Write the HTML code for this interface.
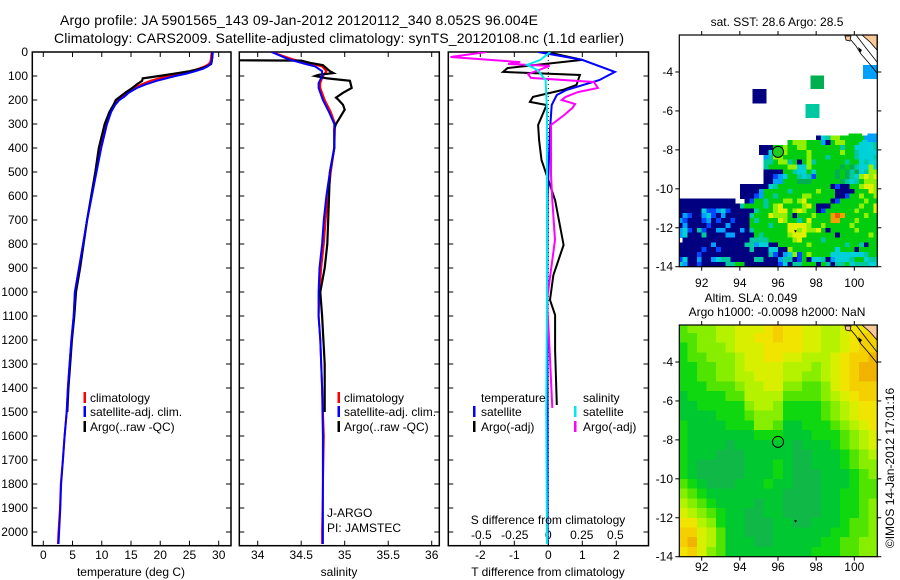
<!DOCTYPE html>
<html><head><meta charset="utf-8"><style>
html,body{margin:0;padding:0;background:#fff;}
svg{display:block;font-family:"Liberation Sans",sans-serif;}
text{fill:#000;}
</style></head><body>
<svg id="fig" width="900" height="580" viewBox="0 0 900 580" xmlns="http://www.w3.org/2000/svg">
<defs>
<clipPath id="c1"><rect x="32" y="52" width="199" height="494"/></clipPath>
<clipPath id="c2"><rect x="240" y="52" width="199" height="494"/></clipPath>
<clipPath id="c3"><rect x="448" y="52" width="200" height="494"/></clipPath>
<clipPath id="cm1"><rect x="679" y="35" width="198" height="232"/></clipPath>
<clipPath id="cm2"><rect x="679" y="325" width="198" height="232"/></clipPath>
</defs>
<text x="60" y="25" font-size="14" textLength="478">Argo profile: JA 5901565_143 09-Jan-2012 20120112_340 8.052S 96.004E</text>
<text x="54" y="43" font-size="14" textLength="570">Climatology: CARS2009. Satellite-adjusted climatology: synTS_20120108.nc (1.1d earlier)</text>
<g id="p1"></g>
<g id="p2"></g>
<g id="p3"></g>
<g id="m1"></g>
<g id="m2"></g>
<text x="777" y="26" font-size="12" text-anchor="middle">sat. SST: 28.6 Argo: 28.5</text>
<text x="751" y="302" font-size="12" text-anchor="middle">Altim. SLA: 0.049</text>
<text x="777" y="316" font-size="12" text-anchor="middle">Argo h1000: -0.0098 h2000: NaN</text>
<text transform="translate(894,468) rotate(-90)" font-size="12" text-anchor="middle">©IMOS 14-Jan-2012 17:01:16</text>
</svg>
<script>
// ---------- data ----------
const depthTicks = [0,100,200,300,400,500,600,700,800,900,1000,1100,1200,1300,1400,1500,1600,1700,1800,1900,2000];
const tempTicks = [0,5,10,15,20,25,30];
const salTicks = [34,34.5,35,35.5,36];
const salTickLabels = ["34","34.5","35","35.5","36"];
const tDiffTicks = [-2,-1,0,1,2];
const sDiffTicks = [-0.5,-0.25,0,0.25,0.5];
const sDiffTickLabels = ["-0.5","-0.25","0","0.25","0.5"];

const tClimDepth = [0,20,40,50,60,70,80,90,100,110,120,135,150,170,185,200,220,250,300,400,500,600,700,800,900,1000,1100,1200,1300,1400,1500,1600,1700,1800,1900,2000,2050];
const tClim = [28.8,28.7,28.6,28.3,27.6,26.5,25.2,23.5,21.3,19.8,18.3,16.8,15.5,14.3,13.7,12.8,12.2,11.5,10.8,9.8,9.0,8.3,7.5,6.8,6.1,5.4,5.2,4.8,4.5,4.2,4.0,3.65,3.35,3.0,2.85,2.6,2.5];
const tSat = [29.0,28.9,28.8,28.6,28.1,27.3,26.0,24.5,22.6,21.0,19.4,17.5,16.0,14.6,13.9,13.0,12.3,11.6,10.9,9.9,9.1,8.3,7.5,6.8,6.1,5.4,5.2,4.8,4.5,4.2,4.0,3.65,3.35,3.05,2.9,2.7,2.6];
const tArgoDepth = [0,20,40,50,60,70,80,90,100,110,120,135,150,170,185,200,220,250,300,400,500,600,700,800,900,1000,1100,1200,1300,1400,1500];
const tArgo = [28.9,28.9,28.8,28.7,28.0,26.8,25.0,22.5,19.8,17.0,16.9,16.0,15.2,14.0,13.2,12.4,12.0,11.3,10.5,9.5,8.9,8.2,7.5,6.9,6.3,5.6,5.3,4.9,4.6,4.3,4.1];

const sClimDepth = [0,30,50,60,80,100,130,150,200,250,300,400,500,600,700,800,900,1000,1100,1200,1400,1600,2000,2050];
const sClim = [34.16,34.40,34.62,34.74,34.79,34.75,34.72,34.72,34.77,34.84,34.89,34.88,34.84,34.81,34.78,34.76,34.73,34.71,34.70,34.72,34.74,34.76,34.74,34.74];
const sSat = [34.16,34.35,34.55,34.66,34.74,34.74,34.70,34.70,34.75,34.82,34.88,34.88,34.83,34.79,34.76,34.74,34.71,34.70,34.70,34.72,34.74,34.75,34.75,34.75];
const sArgoDepth = [0,34,36,45,55,80,88,95,100,110,120,150,170,190,200,220,240,270,300,320,400,500,700,800,900,1000,1100,1300,1500];
const sArgo = [33.5,33.5,34.5,34.6,34.75,34.83,34.87,34.70,34.66,34.80,35.06,35.08,34.98,34.90,34.93,34.98,35.00,34.95,34.90,34.88,34.88,34.83,34.81,34.80,34.77,34.72,34.74,34.77,34.77];

const dTArgoDepth = [0,33,67,83,96,137,158,187,208,221,304,367,450,512,617,804,929,1033,1096,1242,1471];
const dTArgo = [-0.05,1.0,-1.2,-1.33,0.93,0.83,0.43,-0.45,-0.54,-0.05,-0.3,-0.27,-0.2,-0.05,0.2,0.45,0.15,0.05,0.2,0.2,0.25];
const dTSatDepth = [0,33,83,117,158,179,221,325,600,1000,1500,2050];
const dTSat = [-0.3,1.0,1.96,1.5,0.54,0.25,0.1,0.05,-0.02,-0.03,-0.02,-0.02];
const dSSatDepth = [0,33,54,75,117,242,600,1000,1500,2050];
const dSSat = [0.015,-0.06,-0.16,-0.08,-0.02,-0.01,-0.01,-0.01,-0.015,-0.01];
const dSArgoDepth = [0,21,42,50,58,92,108,125,150,167,187,200,217,233,262,304,367,512,617,783,908,1033,1242,1483];
const dSArgo = [-0.46,-0.73,-0.21,-0.3,0.01,-0.15,-0.13,0.34,0.37,0.22,0.13,0.1,0.2,0.18,0.12,0.02,0.02,0.02,0.03,0.05,0.02,-0.01,0.01,0.03];

const lonTicks = [92,94,96,98,100];
const latTicks = [-4,-6,-8,-10,-12,-14];

// SST grid: 0.25 deg cells, lon from 90.75, lat from -7.25 downward
const sstRows = [
"............................." + "NCTYYGGGGGLLL",
"......................." + "GYYYGGGLNGYYGGGCCCT",
"................." + "NNN" + "GGYGGYYGGGGGGGTGGCCCCT",
"................." + "NNC" + "GYYGGGGYGGGGGGYGGTCCCC",
".................." + "LT" + "YYGGGGGYGGGTGGGGGTCCCT",
".................." + "TT" + "GYYTGNGYTGGGGGGTGGCTCC",
".................." + "TG" + "GGGYYCCYGGGGGGgGgTCCYC",
".................." + "NN" + "NNGGTCCGCGGGGgGgTgCTYY",
".................." + "NN" + "BLCGGTCTBGGGGgGgTCYyYy",
".................." + "NN" + "LLGGGgggGGGGGGgTCTGYYY",
"............." + "NNNNN" + "NCTGGGGGGGGGGGNBNNGGYyyY",
"............." + "NNNNL" + "GGGGGTGGGGGYGGGNNNNGGGyY",
"............." + "NNNBL" + "GGTGGGGGYYGGGGGNNBGGYGGY",
"NNNNNNNNNNNN.." + "NBGGTGGGYYGYyGGGGGNBGGGGGYGG",
"NNNNNNN"+"NNNNNNT"+"GGGGTGY"+"yGGGGYy"+"GNNNGGG"+"GGGYGGy",
"NNNNNCB"+"BLCBNNN"+"NNTGGGY"+"yyGYyYG"+"GNBGGGG"+"GGYGGGy",
"NLBNNLC"+"BNLNNNN"+"NTGGGyY"+"YYGNGGG"+"YGGGORO"+"GGGGYGG",
"LBNNNBL"+"NBNNBNN"+"NGTGGGG"+"yYGGTGy"+"GGGGOOG"+"GGYGGGG",
"NLNNNNB"+"NNNLNNN"+"NGGGGTG"+"GGyyyyY"+"GGYGGGG"+"GYGGGGG",
"LCBNTBN"+"NLLNNNL"+"NTGGGGG"+"GGyyYyY"+"YyGNGGG"+"GGYGGGG",
"LCNNNTN"+"NNNLLNN"+"NNGTGGG"+"GGYyyyG"+"GGGGGNG"+"GGGGGYG",
".NNNNNN"+"NNNNNNN"+"NTTTTGG"+"GGGYyGG"+"GGTGGGG"+"GGGGGGG",
"NNNNNNN"+"LNNNNNN"+"TTLCCNN"+"GGGGGGY"+"GGGGGGG"+"TGGTNGG",
"NNNNNBN"+"NBNNNNN"+"NTNNNCC"+"NNYGGGG"+"GGGGGCG"+"GGNGGGG",
"NNNNBNN"+"NNNNNNN"+"NNNNNTB"+"NLCYBGY"+"GGGGCCC"+"CCCCTGG",
"BCNNLNN"+"LCTTNNN"+"NNTTNNN"+"LTTNBGN"+"CCTNLCC"+"CTGGCTT",
"CLNNBNN"+"NNNTTGG"+"NNNNNNN"+"BCNTTGG"+"GNGTNTT"+"GCTTTCC",
"LCNNBNC"+"NNNTGGN"+"NNNBLLN"+"LLNNNGG"+"GLLLLLG"+"GCLLTCC"
];
const sstColors = {N:"#000080",B:"#0048ff",L:"#00a0ff",C:"#00d0d8",T:"#00c8a0",g:"#00b050",G:"#00cc10",Y:"#90f000",y:"#e0f000",O:"#f0a000",R:"#e86000"};
const sstBlockLon1 = [94.66,97.7,97.45,100.45,99.7,100.7];
const sstBlockLon2 = [95.4,98.4,98.18,101.3,100.4,101.3];
const sstBlockLat1 = [-4.88,-4.17,-5.65,-3.64,-7.16,-7.16];
const sstBlockLat2 = [-5.63,-4.88,-6.35,-4.35,-7.6,-7.6];
const sstBlockCode = ["N","g","T","L","G","L"];

const slaRows = [
"344455666787766556778","334455667787766556788","234445666777766556788","233444566776655567889",
"223344566665554567899","223344556665544567899","222333455664433467888","122223355553333456788",
"112222245542222345677","111122234442222345677","211112224431122234567","211111112221112223456",
"211110111111011123456","211100011111001112345","210000011121001112344","210000011121000111234",
"321000111211000111233","432111111110000112233","543211110110000112234","654321100110000112234",
"775421100011001112334","886531100011111122334","896531110011111223344","786431111111112223344",
"676431111111112223344"
];
const slaColors = ["#10b848","#00c830","#10d810","#50e400","#88ee00","#b4f200","#d8f000","#f0e400","#f4d000","#f0b400"];

// ---------- helpers ----------
const NS = "http://www.w3.org/2000/svg";
function el(tag, parent, attrs){ const e=document.createElementNS(NS,tag); for(const k in attrs) e.setAttribute(k,attrs[k]); parent.appendChild(e); return e; }
function txt(parent,x,y,s,size,anchor){ const t=el("text",parent,{x:x,y:y,"font-size":size,"text-anchor":anchor||"start"}); t.textContent=s; return t; }

const PT=52, PB=545.7;
const yDepth = d => 52 + d*0.24;
function linScale(d0,d1,r0,r1){ return v => r0 + (v-d0)*(r1-r0)/(d1-d0); }
const xT = linScale(0,30,43.3,218.7);
const xS = linScale(34,36,257.7,431.7);
const xdT = linScale(0,1,548.3,582.3);
const xdS = linScale(0,1,548.3,682.3);

function frame(g,x0,x1,name){
  const r=el("rect",g,{x:x0,y:PT,width:x1-x0,height:PB-PT,fill:"none",stroke:"#000","stroke-width":1.5});
  
  
  depthTicks.forEach(d=>{
    const y=yDepth(d);
    el("line",g,{x1:x0,x2:x0+5,y1:y,y2:y,stroke:"#000"});
    el("line",g,{x1:x1-5,x2:x1,y1:y,y2:y,stroke:"#000"});
  });
}
function series(g,clip,depths,vals,xf,color,name,w){
  const pts=depths.map((d,i)=>xf(vals[i]).toFixed(1)+","+yDepth(d).toFixed(1)).join(" ");
  const p=el("polyline",g,{points:pts,fill:"none",stroke:color,"stroke-width":w||2,"clip-path":"url(#"+clip+")","stroke-linejoin":"miter"});
  
  
}
function xticks(g,vals,xf,labels,y){
  vals.forEach((v,i)=>{
    const x=xf(v);
    el("line",g,{x1:x,x2:x,y1:PT,y2:PT+5,stroke:"#000"});
    el("line",g,{x1:x,x2:x,y1:PB-5,y2:PB,stroke:"#000"});
    const t=txt(g,x,y,labels?labels[i]:String(v),12,"middle");
    
    
  });
}
function legendBar(g,x,y,color){ el("rect",g,{x:x,y:y-10,width:2.5,height:11,fill:color}); }

// ---------- panel 1 ----------
const p1=document.getElementById("p1");
frame(p1,32.3,231,"temperature-plot-frame");
depthTicks.forEach(d=>{
  const t=txt(p1,28,yDepth(d)+4,String(d),12,"end");
  
  
});
xticks(p1,tempTicks,xT,null,559);
series(p1,"c1",tClimDepth,tClim,xT,"#ff0000","temperature-climatology-line",2);
series(p1,"c1",tArgoDepth,tArgo,xT,"#000000","temperature-argo-line",2.2);
series(p1,"c1",tClimDepth,tSat,xT,"#0000ff","temperature-satellite-line",2);
let t;
t=txt(p1,131,576,"temperature (deg C)",12,"middle");


legendBar(p1,83.5,402,"#ff0000"); legendBar(p1,83.5,416,"#0000ff"); legendBar(p1,83.5,431,"#000");
t=txt(p1,90,402,"climatology",12);  
t=txt(p1,90,416,"satellite-adj. clim.",12);  
t=txt(p1,90,431,"Argo(..raw -QC)",12);  

// ---------- panel 2 ----------
const p2=document.getElementById("p2");
frame(p2,239.3,439.3,"salinity-plot-frame");
xticks(p2,salTicks,xS,salTickLabels,559);
series(p2,"c2",sClimDepth,sClim,xS,"#ff0000","salinity-climatology-line",2);
series(p2,"c2",sArgoDepth,sArgo,xS,"#000000","salinity-argo-line",2.2);
series(p2,"c2",sClimDepth,sSat,xS,"#0000ff","salinity-satellite-line",2);
t=txt(p2,339,576,"salinity",12,"middle");  
legendBar(p2,337.5,402,"#ff0000"); legendBar(p2,337.5,416,"#0000ff"); legendBar(p2,337.5,431,"#000");
t=txt(p2,344,402,"climatology",12);  
t=txt(p2,344,416,"satellite-adj. clim.",12);  
t=txt(p2,344,431,"Argo(..raw -QC)",12);  
t=txt(p2,327,517,"J-ARGO",12);  
t=txt(p2,327,532,"PI: JAMSTEC",12);  

// ---------- panel 3 ----------
const p3=document.getElementById("p3");
frame(p3,448.3,648.5,"difference-plot-frame");
xticks(p3,tDiffTicks,xdT,null,559);
sDiffTicks.forEach((v,i)=>{
  const tt=txt(p3,xdS(v),539,sDiffTickLabels[i],12,"middle");
  
  
});
el("line",p3,{x1:548.3,x2:548.3,y1:PT,y2:PB,stroke:"#000","stroke-dasharray":"1,3"});
series(p3,"c3",dTArgoDepth,dTArgo,xdT,"#000000","t-diff-argo-line",2);
series(p3,"c3",dTSatDepth,dTSat,xdT,"#0000ff","t-diff-satellite-line",2);
series(p3,"c3",dSArgoDepth,dSArgo,xdS,"#ff00ff","s-diff-argo-line",2);
series(p3,"c3",dSSatDepth,dSSat,xdS,"#00e8f0","s-diff-satellite-line",2);
t=txt(p3,548,524,"S difference from climatology",12,"middle");  
t=txt(p3,548,576,"T difference from climatology",12,"middle");  
t=txt(p3,481,402,"temperature",12);  
t=txt(p3,583,402,"salinity",12);  
legendBar(p3,473,416,"#0000ff"); legendBar(p3,473,431,"#000");
legendBar(p3,574,416,"#00e8f0"); legendBar(p3,574,431,"#ff00ff");
t=txt(p3,481,416,"satellite",12);  
t=txt(p3,481,431,"Argo(-adj)",12);  
t=txt(p3,583,416,"satellite",12);  
t=txt(p3,583,431,"Argo(-adj)",12);  

// ---------- maps ----------
const MX0=679.3, MX1=877.3;
const xLon = linScale(92,100,701.7,854.3);
function latScale(top){ return linScale(-4,-14,top+37,top+231.7); }
function mapFrame(g,top,yLat,name,labY){
  const r=el("rect",g,{x:MX0,y:top,width:MX1-MX0,height:231.7,fill:"none",stroke:"#000","stroke-width":1.2});
  
  
  lonTicks.forEach(v=>{
    const x=xLon(v);
    el("line",g,{x1:x,x2:x,y1:top-4,y2:top,stroke:"#000"});
    el("line",g,{x1:x,x2:x,y1:top+231.7,y2:top+235.7,stroke:"#000"});
    const tt=txt(g,x,labY,String(v),12,"middle");
    
    
  });
  latTicks.forEach(v=>{
    const y=yLat(v);
    el("line",g,{x1:MX0-4,x2:MX0,y1:y,y2:y,stroke:"#000"});
    el("line",g,{x1:MX1,x2:MX1+4,y1:y,y2:y,stroke:"#000"});
    const tt=txt(g,673,y+4,String(v),12,"end");
    
    
  });
}
function coast(g,top,clip){
  const o=top-35;
  const land=el("polygon",g,{points:`862,${35+o} 877,${35+o} 877,${50+o} 870,${42+o}`,fill:"#f8c898",stroke:"#000","stroke-width":0.8,"clip-path":"url(#"+clip+")"});
  
  
  el("polygon",g,{points:`845,${36+o} 851,${36+o} 850,${41+o} 846,${40+o}`,fill:"#f8c898",stroke:"#000","stroke-width":0.8,"clip-path":"url(#"+clip+")"});
  el("polyline",g,{points:`851,${40+o} 856,${46+o} 861,${54+o} 868,${62+o} 877,${73+o}`,fill:"none",stroke:"#000","stroke-width":0.8,"clip-path":"url(#"+clip+")"});
  el("polyline",g,{points:`856,${35+o} 866,${48+o} 877,${62+o}`,fill:"none",stroke:"#000","stroke-width":0.8,"clip-path":"url(#"+clip+")"});
  el("polygon",g,{points:`858,${47+o} 862,${50+o} 860,${53+o}`,fill:"#000"});
}

// SST map
const m1=document.getElementById("m1");
const yLat1 = latScale(35);
const cells1=el("g",m1,{"clip-path":"url(#cm1)","shape-rendering":"crispEdges"});
sstRows.forEach((row,r)=>{
  for(let c=0;c<row.length;c++){
    const ch=row[c]; if(!sstColors[ch]) continue;
    const lonW=90.75+c*0.25, latN=-7.25-r*0.25;
    const x0=xLon(lonW), x1=xLon(lonW+0.25), y0=yLat1(latN), y1=yLat1(latN-0.25);
    const cell=el("rect",cells1,{x:x0.toFixed(2),y:y0.toFixed(2),width:(x1-x0+0.4).toFixed(2),height:(y1-y0+0.4).toFixed(2),fill:sstColors[ch]});
    
    
  }
});
sstBlockCode.forEach((ch,i)=>{
  const x0=xLon(sstBlockLon1[i]), x1=xLon(sstBlockLon2[i]), y0=yLat1(sstBlockLat1[i]), y1=yLat1(sstBlockLat2[i]);
  const b=el("rect",cells1,{x:x0,y:y0,width:x1-x0,height:y1-y0,fill:sstColors[ch]});
  
  
});
coast(m1,35,"cm1");
let circ=el("circle",m1,{cx:xLon(96.0),cy:yLat1(-8.1),r:5.5,fill:"#20cc20",stroke:"#000","stroke-width":1});


el("polygon",m1,{points:`${xLon(96.85)},${yLat1(-12.1)} ${xLon(97.0)},${yLat1(-12.15)} ${xLon(96.9)},${yLat1(-12.25)}`,fill:"#000"});
mapFrame(m1,35,yLat1,"sst-map-frame",287);

// SLA map
const m2=document.getElementById("m2");
const yLat2 = latScale(325);
const cells2=el("g",m2,{"clip-path":"url(#cm2)","shape-rendering":"crispEdges"});
slaRows.forEach((row,r)=>{
  for(let c=0;c<row.length;c++){
    const lv=+row[c];
    const lonW=90.75+c*0.5, latN=-2.0-r*0.5;
    const x0=xLon(lonW), x1=xLon(lonW+0.5), y0=yLat2(latN), y1=yLat2(latN-0.5);
    const cell=el("rect",cells2,{x:x0.toFixed(2),y:y0.toFixed(2),width:(x1-x0+0.4).toFixed(2),height:(y1-y0+0.4).toFixed(2),fill:slaColors[lv]});
    
    
  }
});
coast(m2,325,"cm2");
circ=el("circle",m2,{cx:xLon(96.0),cy:yLat2(-8.1),r:5.5,fill:"none",stroke:"#000","stroke-width":1});


el("polygon",m2,{points:`${xLon(96.85)},${yLat2(-12.1)} ${xLon(97.0)},${yLat2(-12.15)} ${xLon(96.9)},${yLat2(-12.25)}`,fill:"#000"});
mapFrame(m2,325,yLat2,"sla-map-frame",571);
</script>
</body></html>
